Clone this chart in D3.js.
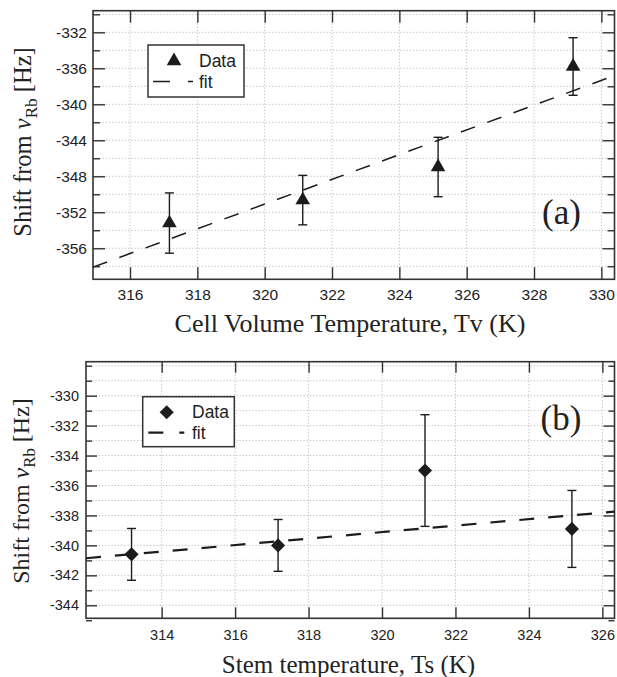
<!DOCTYPE html>
<html>
<head>
<meta charset="utf-8">
<script src="https://cdnjs.cloudflare.com/ajax/libs/d3/7.8.5/d3.min.js"></script>
<style>
  body { margin: 0; background: #fff; }
  svg { display: block; }
</style>
</head>
<body>
<div id="chart"></div>
<script>
// ---- data ----
// (a) cell volume temperature
const tvTemps = [317.17, 321.13, 325.15, 329.16];
const tvShift = [-353.2, -350.65, -346.97, -335.8];
const tvErr = [3.35, 2.75, 3.3, 3.2];
const tvFitTemps = [314.9, 330.4];
const tvFitShift = [-358.1, -336.8];
const tvXTicks = [316, 318, 320, 322, 324, 326, 328, 330];
const tvYTicks = [-356, -352, -348, -344, -340, -336, -332];
const tvYMinor = [-358, -354, -350, -346, -342, -338, -334, -330];

// (b) stem temperature
const tsTemps = [313.18, 317.17, 321.17, 325.17];
const tsShift = [-340.6, -340.0, -335.0, -338.9];
const tsErr = [1.73, 1.73, 3.73, 2.57];
const tsFitTemps = [311.94, 326.33];
const tsFitShift = [-340.86, -337.74];
const tsXTicks = [314, 316, 318, 320, 322, 324, 326];
const tsYTicks = [-344, -342, -340, -338, -336, -334, -332, -330];
const tsYMinor = [-345, -343, -341, -339, -337, -335, -333, -331, -329, -328];

const ink = "#1c1c1c";

const svg = d3.select("#chart").append("svg")
    .attr("width", 617)
    .attr("height", 677)
    .style("font-family", "'Liberation Sans', Arial, sans-serif");

function drawPanel(p) {
    const x = d3.scaleLinear().domain(p.xDomain).range([p.left, p.right]);
    const y = d3.scaleLinear().domain(p.yDomain).range([p.bottom, p.top]);
    const g = svg.append("g");

    // dotted grid
    const gridY = p.yTicks.concat(p.yMinor).filter(v => v > p.yDomain[0] && v < p.yDomain[1]);
    g.selectAll(".gy").data(gridY).join("line")
        .attr("x1", p.left).attr("x2", p.right)
        .attr("y1", d => y(d)).attr("y2", d => y(d))
        .attr("stroke", "#bdbdbd").attr("stroke-width", 1).attr("stroke-dasharray", "1.2,2");
    g.selectAll(".gx").data(p.xTicks.filter(v => v < p.xDomain[1])).join("line")
        .attr("x1", d => x(d)).attr("x2", d => x(d))
        .attr("y1", p.top).attr("y2", p.bottom)
        .attr("stroke", "#bdbdbd").attr("stroke-width", 1).attr("stroke-dasharray", "1.2,2");

    // axes with inward ticks on all four sides
    const fmt = d => String(d); // plain hyphen, as in the figure
    g.append("g").attr("transform", `translate(${p.left},0)`)
        .call(d3.axisLeft(y).tickValues(p.yTicks).tickSizeInner(-p.majorTick).tickSizeOuter(0).tickPadding(p.yPad).tickFormat(fmt));
    g.append("g").attr("transform", `translate(${p.right},0)`)
        .call(d3.axisRight(y).tickValues(p.yTicks).tickSizeInner(-p.majorTick).tickSizeOuter(0).tickFormat(""));
    g.append("g").attr("transform", `translate(${p.left},0)`)
        .call(d3.axisLeft(y).tickValues(p.yMinor).tickSizeInner(-p.minorTick).tickSizeOuter(0).tickFormat(""));
    g.append("g").attr("transform", `translate(${p.right},0)`)
        .call(d3.axisRight(y).tickValues(p.yMinor).tickSizeInner(-p.minorTick).tickSizeOuter(0).tickFormat(""));
    g.append("g").attr("transform", `translate(0,${p.bottom})`)
        .call(d3.axisBottom(x).tickValues(p.xTicks).tickSizeInner(-p.majorTick).tickSizeOuter(0).tickPadding(p.xPad).tickFormat(fmt));
    g.append("g").attr("transform", `translate(0,${p.top})`)
        .call(d3.axisTop(x).tickValues(p.xTicks).tickSizeInner(-p.majorTick).tickSizeOuter(0).tickFormat(""));

    g.selectAll(".domain").remove();
    g.selectAll(".tick line").attr("stroke", "#333").attr("stroke-width", 1.4);
    g.selectAll(".tick text").attr("fill", "#222").style("font-size", p.tickFont + "px")
        .style("font-family", "'Liberation Sans', Arial, sans-serif");

    // frame
    g.append("rect")
        .attr("x", p.left).attr("y", p.top)
        .attr("width", p.right - p.left).attr("height", p.bottom - p.top)
        .attr("fill", "none").attr("stroke", "#333").attr("stroke-width", 1.6);

    // fit line
    const fitPts = p.fitX.map((v, i) => [v, p.fitY[i]]);
    g.append("path")
        .attr("d", d3.line().x(d => x(d[0])).y(d => y(d[1]))(fitPts))
        .attr("fill", "none").attr("stroke", ink)
        .attr("stroke-width", p.fitWidth).attr("stroke-dasharray", p.fitDash);

    // error bars
    const pts = p.xs.map((v, i) => ({ t: v, s: p.ys[i], e: p.errs[i] }));
    const eb = g.append("g").attr("stroke", ink).attr("stroke-width", 1.4);
    eb.selectAll(".stem").data(pts).join("line")
        .attr("x1", d => x(d.t)).attr("x2", d => x(d.t))
        .attr("y1", d => y(d.s + d.e)).attr("y2", d => y(d.s - d.e));
    eb.selectAll(".capT").data(pts).join("line")
        .attr("x1", d => x(d.t) - 4.5).attr("x2", d => x(d.t) + 4.5)
        .attr("y1", d => y(d.s + d.e)).attr("y2", d => y(d.s + d.e));
    eb.selectAll(".capB").data(pts).join("line")
        .attr("x1", d => x(d.t) - 4.5).attr("x2", d => x(d.t) + 4.5)
        .attr("y1", d => y(d.s - d.e)).attr("y2", d => y(d.s - d.e));

    // markers
    g.selectAll(".mk").data(pts).join("path")
        .attr("d", p.symbol)
        .attr("transform", d => `translate(${x(d.t)},${y(d.s)}) rotate(${p.symbolRotate})`)
        .attr("fill", ink);

    // legend
    const L = p.legend;
    g.append("rect")
        .attr("x", L.x0).attr("y", L.y0).attr("width", L.x1 - L.x0).attr("height", L.y1 - L.y0)
        .attr("fill", "#fff").attr("stroke", "#333").attr("stroke-width", 1.5);
    g.append("path").attr("d", p.symbol)
        .attr("transform", `translate(${L.mx},${L.my}) rotate(${p.symbolRotate})`)
        .attr("fill", ink);
    g.append("text").attr("x", L.tx).attr("y", L.dataY).text("Data")
        .attr("fill", "#222").style("font-size", L.font + "px");
    g.append("line")
        .attr("x1", L.lx0).attr("x2", L.lx1).attr("y1", L.ly).attr("y2", L.ly)
        .attr("stroke", ink).attr("stroke-width", p.fitWidth).attr("stroke-dasharray", L.dash);
    g.append("text").attr("x", L.tx).attr("y", L.fitY).text("fit")
        .attr("fill", "#222").style("font-size", L.font + "px");

    // panel tag
    g.append("text").attr("x", p.tagX).attr("y", p.tagY).attr("text-anchor", "middle")
        .text(p.tag).attr("fill", "#222")
        .style("font-family", "'Liberation Serif', 'Times New Roman', serif")
        .style("font-size", "35px");

    // axis titles
    g.append("text").attr("x", (p.xTitleX)).attr("y", p.xTitleY).attr("text-anchor", "middle")
        .text(p.xTitle).attr("fill", "#222")
        .style("font-family", "'Liberation Serif', 'Times New Roman', serif")
        .style("font-size", p.titleFont + "px");

    const yt = g.append("text")
        .attr("transform", `translate(${p.yTitleX},${p.yTitleY}) rotate(-90)`)
        .attr("text-anchor", "middle").attr("fill", "#222")
        .style("font-family", "'Liberation Serif', 'Times New Roman', serif")
        .style("font-size", p.yTitleFont + "px");
    yt.append("tspan").text("Shift from ");
    yt.append("tspan").text("\u03bd").style("font-style", "italic");
    yt.append("tspan").text("Rb").attr("dy", 6).style("font-size", "0.7em");
    yt.append("tspan").text(" [Hz]").attr("dy", -6);
}

const triangle = d3.symbol().type(d3.symbolTriangle).size(92)();
const diamond = d3.symbol().type(d3.symbolSquare).size(100)();

drawPanel({
    left: 93, right: 614.5, top: 10.7, bottom: 279.3,
    xDomain: [314.9, 330.39], yDomain: [-359.45, -329.6],
    xTicks: tvXTicks, yTicks: tvYTicks, yMinor: tvYMinor,
    majorTick: 12, minorTick: 7, tickFont: 15.5, xPad: 10, yPad: 6,
    xs: tvTemps, ys: tvShift, errs: tvErr,
    fitX: tvFitTemps, fitY: tvFitShift, fitWidth: 1.5, fitDash: "15,13",
    symbol: triangle, symbolRotate: 0,
    legend: { x0: 148, x1: 244, y0: 45, y1: 97, mx: 174, my: 61, tx: 199, dataY: 66.5, fitY: 88,
              lx0: 153, lx1: 193, ly: 81.5, dash: "17,18", font: 17.5 },
    tag: "(a)", tagX: 561.5, tagY: 224,
    xTitle: "Cell Volume Temperature, Tv (K)", xTitleX: 350, xTitleY: 332, titleFont: 26,
    yTitleX: 31, yTitleY: 142, yTitleFont: 24.5
});

drawPanel({
    left: 86, right: 614.5, top: 361.7, bottom: 618.3,
    xDomain: [311.94, 326.33], yDomain: [-344.87, -327.73],
    xTicks: tsXTicks, yTicks: tsYTicks, yMinor: tsYMinor,
    majorTick: 11, minorTick: 6, tickFont: 14.5, xPad: 11, yPad: 7,
    xs: tsTemps, ys: tsShift, errs: tsErr,
    fitX: tsFitTemps, fitY: tsFitShift, fitWidth: 2.2, fitDash: "15,14",
    symbol: diamond, symbolRotate: 45,
    legend: { x0: 142.7, x1: 234.3, y0: 396.7, y1: 446.7, mx: 166.7, my: 412.3, tx: 192, dataY: 418.3, fitY: 439.3,
              lx0: 148.3, lx1: 184.3, ly: 432.7, dash: "15,16", font: 17.5 },
    tag: "(b)", tagX: 561, tagY: 430,
    xTitle: "Stem temperature, Ts (K)", xTitleX: 348.5, xTitleY: 673, titleFont: 25,
    yTitleX: 29, yTitleY: 491, yTitleFont: 24
});
</script>
</body>
</html>
